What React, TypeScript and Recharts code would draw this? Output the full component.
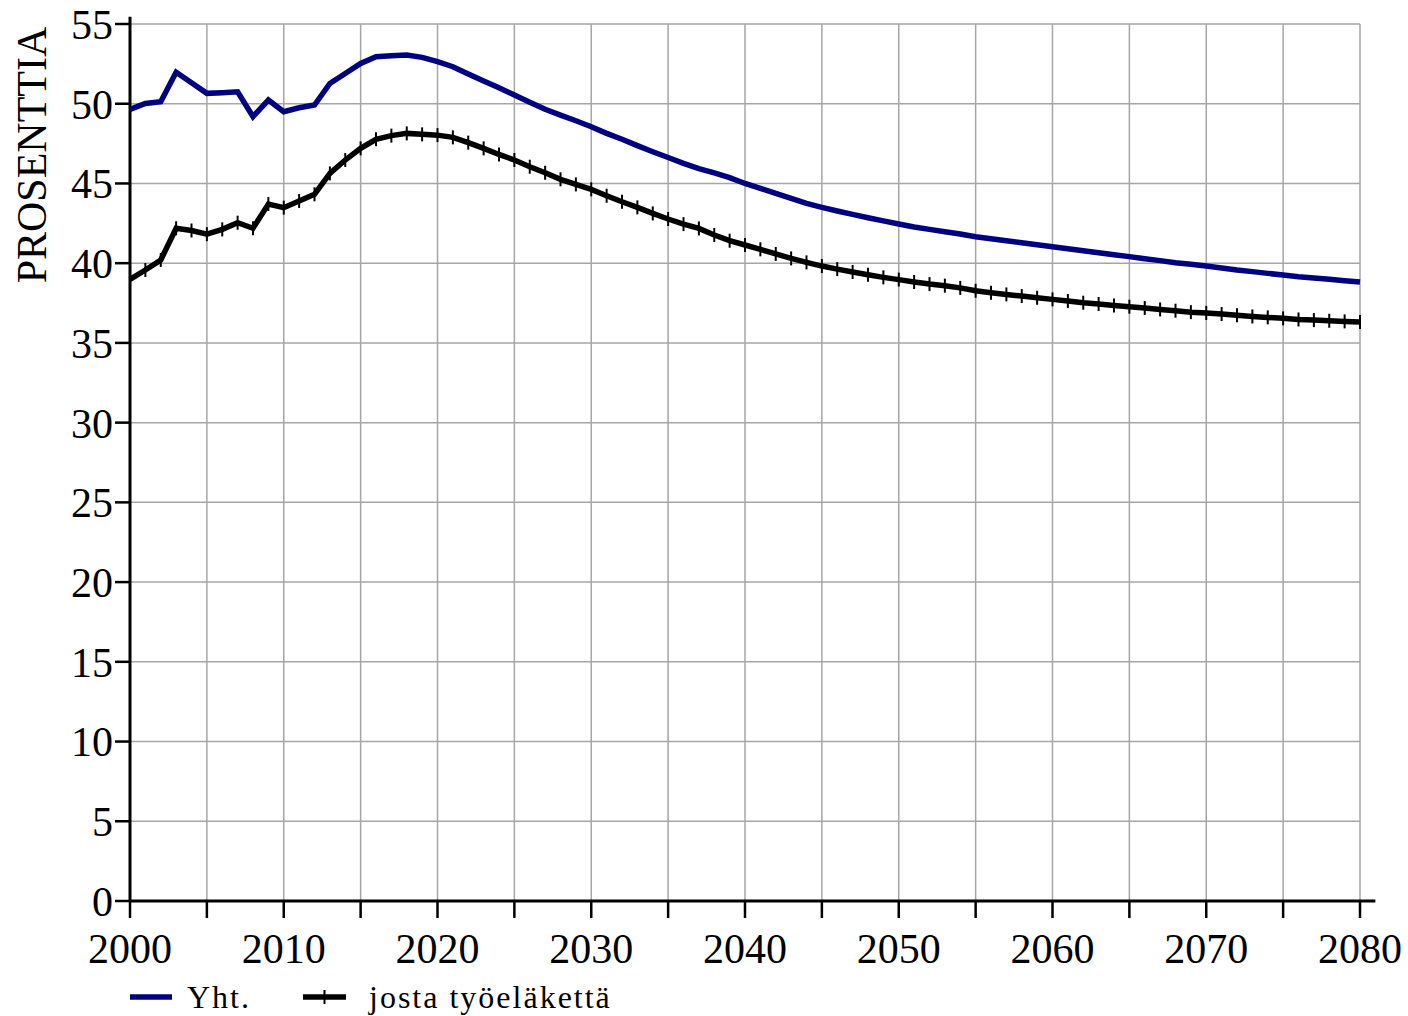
import { CartesianGrid, Legend, Line, LineChart, ReferenceLine, XAxis, YAxis } from "recharts";

const FONT = "'Liberation Serif', 'Times New Roman', serif";

const firstYear = 2000;
const yearTicks = [2000, 2005, 2010, 2015, 2020, 2025, 2030, 2035, 2040, 2045, 2050, 2055, 2060, 2065, 2070, 2075, 2080];
const percentTicks = [0, 5, 10, 15, 20, 25, 30, 35, 40, 45, 50, 55];

// Yht.
const totalValues = [
  49.65, 50.02, 50.13, 51.97, 51.32, 50.65, 50.69, 50.75, 49.19, 50.23,
  49.5, 49.75, 49.92, 51.27, 51.9, 52.53, 52.95, 53.01, 53.06, 52.91,
  52.64, 52.32, 51.86, 51.42, 51.0, 50.55, 50.09, 49.65, 49.29, 48.93,
  48.56, 48.14, 47.77, 47.37, 46.99, 46.63, 46.26, 45.93, 45.67, 45.36,
  45.0, 44.69, 44.38, 44.06, 43.75, 43.5, 43.27, 43.06, 42.85, 42.65,
  42.46, 42.27, 42.12, 41.97, 41.83, 41.66, 41.53, 41.41, 41.28, 41.16,
  41.03, 40.91, 40.78, 40.66, 40.53, 40.41, 40.28, 40.16, 40.03, 39.93,
  39.82, 39.7, 39.57, 39.47, 39.36, 39.26, 39.15, 39.07, 38.99, 38.9,
  38.82
];

// josta työeläkettä
const earningsValues = [
  38.99, 39.57, 40.2, 42.19, 42.05, 41.82, 42.12, 42.54, 42.19, 43.71,
  43.48, 43.9, 44.32, 45.63, 46.47, 47.2, 47.77, 48.0, 48.14, 48.08,
  48.03, 47.89, 47.56, 47.2, 46.82, 46.47, 46.05, 45.67, 45.26, 44.94,
  44.63, 44.23, 43.85, 43.5, 43.12, 42.77, 42.45, 42.18, 41.77, 41.41,
  41.14, 40.87, 40.58, 40.3, 40.05, 39.82, 39.63, 39.45, 39.27, 39.11,
  38.97, 38.82, 38.69, 38.59, 38.45, 38.27, 38.15, 38.04, 37.94, 37.83,
  37.73, 37.63, 37.52, 37.44, 37.35, 37.27, 37.19, 37.1, 37.02, 36.93,
  36.88, 36.81, 36.73, 36.66, 36.6, 36.54, 36.47, 36.43, 36.39, 36.35,
  36.31
];

const rows = totalValues.map((total, i) => ({
  year: firstYear + i,
  total,
  earnings: earningsValues[i]
}));

function TickDot(props: any) {
  const { cx, cy, index } = props;
  if (cx == null || cy == null) return null;
  return <line key={index} x1={cx} x2={cx} y1={cy - 7} y2={cy + 7} stroke="#000" strokeWidth={2} />;
}

function LegendContent() {
  return (
    <div
      style={{
        display: "flex",
        alignItems: "center",
        height: 45,
        paddingTop: 7,
        boxSizing: "border-box",
        paddingLeft: 130,
        fontFamily: FONT,
        fontSize: 32,
        letterSpacing: 2,
        color: "#000"
      }}
    >
      <svg width={42} height={20} style={{ marginRight: 15 }}>
        <line x1={0} x2={42} y1={10} y2={10} stroke="#000080" strokeWidth={5.5} />
      </svg>
      <span style={{ marginRight: 52 }}>Yht.</span>
      <svg width={43} height={20} style={{ marginRight: 23 }}>
        <line x1={0} x2={43} y1={10} y2={10} stroke="#000" strokeWidth={5.5} />
        <line x1={21.5} x2={21.5} y1={3} y2={17} stroke="#000" strokeWidth={2} />
      </svg>
      <span>josta työeläkettä</span>
    </div>
  );
}

function YLabel(props: any) {
  const { viewBox } = props;
  const x = viewBox.x + 32;
  const y = viewBox.y + 131;
  return (
    <text
      x={x}
      y={y}
      transform={`rotate(-90, ${x}, ${y})`}
      textAnchor="middle"
      dominantBaseline="central"
      fontFamily={FONT}
      fontSize={42}
      fill="#000"
    >
      PROSENTTIA
    </text>
  );
}

export default function App() {
  return (
    <div style={{ position: "absolute", left: 0, top: 0, background: "#fff" }}>
      <LineChart width={1408} height={1016} data={rows} margin={{ top: 24, right: 48, bottom: 0, left: 0 }}>
        <CartesianGrid stroke="#a6a6a6" strokeWidth={1.5} />
        <XAxis
          dataKey="year"
          type="number"
          domain={[2000, 2080]}
          ticks={yearTicks}
          interval={0}
          height={70}
          axisLine={false}
          tickLine={{ stroke: "#000", strokeWidth: 2.5 }}
          tickSize={17}
          tickMargin={15}
          tickFormatter={(v: number) => (v % 10 === 0 ? String(v) : "")}
          tick={{ fontFamily: FONT, fontSize: 42, fill: "#000" }}
        />
        <YAxis
          domain={[0, 55]}
          ticks={percentTicks}
          interval={0}
          width={130}
          axisLine={false}
          tickLine={{ stroke: "#000", strokeWidth: 2.5 }}
          tickSize={15}
          tickMargin={2}
          tick={{ fontFamily: FONT, fontSize: 42, fill: "#000" }}
          label={<YLabel />}
        />
        <ReferenceLine
          segment={[{ x: 2000, y: 0 }, { x: 2081, y: 0 }]}
          ifOverflow="visible"
          stroke="#000"
          strokeWidth={3}
        />
        <ReferenceLine
          segment={[{ x: 2000, y: 0 }, { x: 2000, y: 55.45 }]}
          ifOverflow="visible"
          stroke="#000"
          strokeWidth={3}
        />
        <Line
          dataKey="total"
          name="Yht."
          type="linear"
          stroke="#000080"
          strokeWidth={5.5}
          dot={false}
          isAnimationActive={false}
        />
        <Line
          dataKey="earnings"
          name="josta työeläkettä"
          type="linear"
          stroke="#000"
          strokeWidth={5.5}
          dot={<TickDot />}
          isAnimationActive={false}
        />
        <Legend verticalAlign="bottom" content={<LegendContent />} wrapperStyle={{ left: 0, width: 1408 }} />
      </LineChart>
    </div>
  );
}
